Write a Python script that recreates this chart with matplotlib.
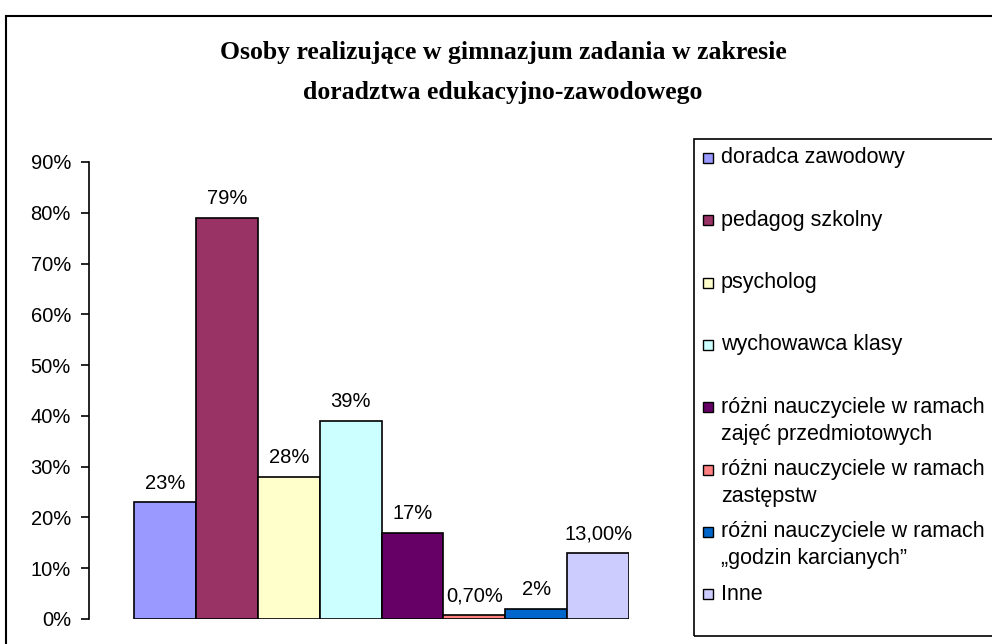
import matplotlib
matplotlib.use("Agg")
import matplotlib.pyplot as plt
from matplotlib.patches import Rectangle
from matplotlib.ticker import FuncFormatter

categories = [
    "doradca zawodowy",
    "pedagog szkolny",
    "psycholog",
    "wychowawca klasy",
    "różni nauczyciele w ramach\nzajęć przedmiotowych",
    "różni nauczyciele w ramach\nzastępstw",
    "różni nauczyciele w ramach\n„godzin karcianych”",
    "Inne",
]
values = [23, 79, 28, 39, 17, 0.7, 2, 13]
value_labels = ["23%", "79%", "28%", "39%", "17%", "0,70%", "2%", "13,00%"]
colors = ["#9999FF", "#993366", "#FFFFCC", "#CCFFFF",
          "#660066", "#FF8080", "#0066CC", "#CCCCFF"]
yticks = [0, 10, 20, 30, 40, 50, 60, 70, 80, 90]

title = "Osoby realizujące w gimnazjum zadania w zakresie\ndoradztwa edukacyjno-zawodowego"

W, H = 992, 644
fig = plt.figure(figsize=(W / 100, H / 100), dpi=100)
plt.rcParams["font.family"] = ["Liberation Sans", "DejaVu Sans"]

def fx(px):
    return px / W

def fy(py):
    return 1 - py / H

# outer chart frame (runs off the right and bottom edge)
fig.patches.append(Rectangle((fx(6), fy(H + 10)), 1.2, fy(16) - fy(H + 10),
                             transform=fig.transFigure, fill=False,
                             edgecolor="black", linewidth=1.5, clip_on=False))

# plot area
ax_left, ax_right, ax_top, ax_bottom = 89, 629, 162, 619
ax = fig.add_axes([fx(ax_left), fy(ax_bottom), fx(ax_right - ax_left),
                   fy(ax_top) - fy(ax_bottom)])
ax.patch.set_alpha(0)

x = list(range(len(values)))
bar_px = (629 - 134) / len(values)
gap_units = (134 - ax_left) / bar_px
ax.bar(x, values, width=1.0, color=colors, edgecolor="black", linewidth=1.2,
       zorder=3)
ax.set_xlim(-0.5 - gap_units, len(values) - 0.5)
ax.set_ylim(0, 90)

for xi, v, lab in zip(x, values, value_labels):
    ax.annotate(lab, (xi, v), xytext=(0, 19), textcoords="offset pixels",
                ha="center", va="center", fontsize=14.5)

ax.set_yticks(yticks)
ax.yaxis.set_major_formatter(FuncFormatter(lambda v, p: f"{v:.0f}%"))
ax.tick_params(axis="y", direction="out", length=6, width=1.2, labelsize=14.5,
               pad=7)
ax.set_xticks([])
for s in ["top", "right", "bottom"]:
    ax.spines[s].set_visible(False)
ax.spines["left"].set_linewidth(1.2)

# title, two lines
for k, line in enumerate(title.split("\n")):
    fig.text(fx(503), fy(53 + k * 40), line, ha="center", va="center",
             fontsize=18.5, fontweight="bold", family=["Liberation Serif"])

# legend box (runs off the right edge)
fig.patches.append(Rectangle((fx(694), fy(636)), 1.0, fy(139) - fy(636),
                             transform=fig.transFigure, fill=False,
                             edgecolor="black", linewidth=1.2, clip_on=False))
first_y, step = 158, 62.3
for i, (cat, col) in enumerate(zip(categories, colors)):
    yc = first_y + i * step
    fig.patches.append(Rectangle((fx(703), fy(yc + 5)), fx(10), fy(yc - 5) - fy(yc + 5),
                                 transform=fig.transFigure, facecolor=col,
                                 edgecolor="black", linewidth=1.0))
    for j, line in enumerate(cat.split("\n")):
        fig.text(fx(721), fy(yc + j * 27), line, ha="left", va="center",
                 fontsize=15.5)

fig.savefig("out.png", dpi=100)
